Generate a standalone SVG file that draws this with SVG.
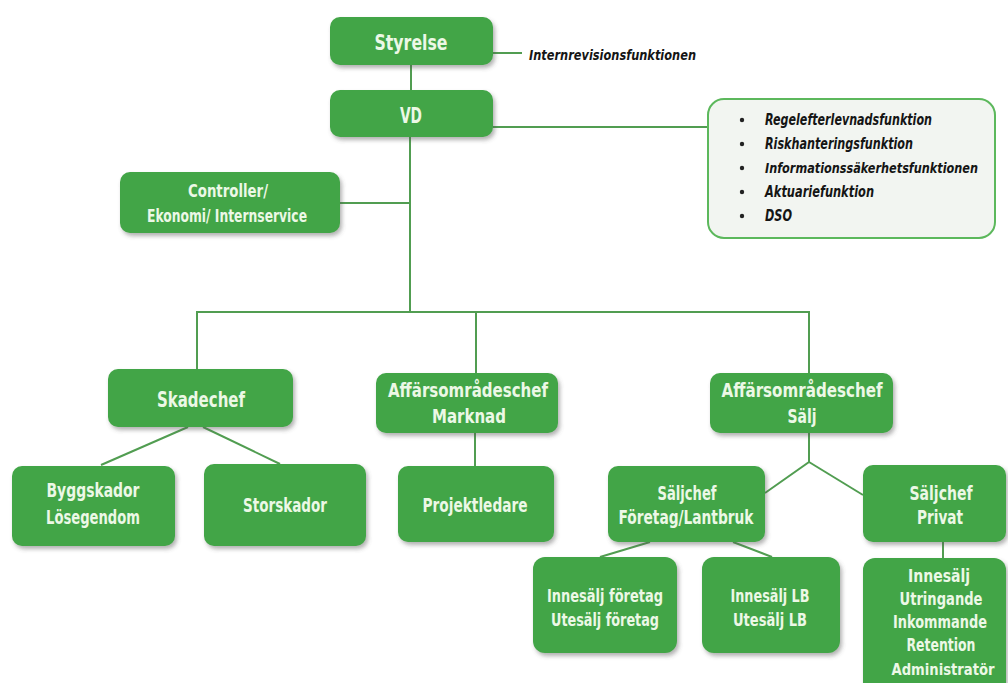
<svg xmlns="http://www.w3.org/2000/svg" width="1008" height="683" viewBox="0 0 1008 683">
<defs>
<filter id="sh" x="-10%" y="-10%" width="125%" height="130%">
<feDropShadow dx="2" dy="3" stdDeviation="2" flood-color="#555" flood-opacity="0.45"/>
</filter>
<style>
.n{fill:#43a547;filter:url(#sh)}
.t{font-family:"DejaVu Sans Condensed","Liberation Sans Narrow","Liberation Sans",sans-serif;font-weight:bold;fill:#ecf8e6;text-anchor:middle}
.i{font-family:"DejaVu Sans Condensed","Liberation Sans Narrow","Liberation Sans",sans-serif;font-weight:bold;font-style:italic;fill:#151515}
.c{stroke:#519d51;stroke-width:2;fill:none}
.box{fill:#f2f5f1;stroke:#5cb85c;stroke-width:2}
</style>
</defs>
<rect width="1008" height="683" fill="#ffffff"/>
<g id="connectors">
<line class="c" x1="411" y1="65" x2="411" y2="90"/>
<line class="c" x1="493" y1="53" x2="522" y2="53"/>
<line class="c" x1="493" y1="127" x2="708" y2="127"/>
<line class="c" x1="410" y1="137" x2="410" y2="312"/>
<line class="c" x1="340" y1="203" x2="410" y2="203"/>
<line class="c" x1="196" y1="312" x2="810" y2="312"/>
<line class="c" x1="197" y1="312" x2="197" y2="369"/>
<line class="c" x1="476" y1="312" x2="476" y2="373"/>
<line class="c" x1="809" y1="312" x2="809" y2="373"/>
<line class="c" x1="188" y1="427" x2="101" y2="465"/>
<line class="c" x1="203" y1="427" x2="280" y2="464"/>
<line class="c" x1="475" y1="433" x2="475" y2="466"/>
<polyline class="c" points="809,433 809,462 765,493"/>
<line class="c" x1="809" y1="462" x2="863" y2="495"/>
<line class="c" x1="650" y1="542" x2="600" y2="557"/>
<line class="c" x1="733" y1="542" x2="772" y2="557"/>
<line class="c" x1="943" y1="542" x2="943" y2="558"/>
</g>
<g id="styrelse">
<rect class="n" x="330" y="17" width="163" height="48" rx="10"/>
<text class="t" x="411" y="50" font-size="22" textLength="73" lengthAdjust="spacingAndGlyphs">Styrelse</text>
</g>
<g id="internrevision">
<text class="i" x="529" y="60" font-size="14.5" textLength="167" lengthAdjust="spacingAndGlyphs">Internrevisionsfunktionen</text>
</g>
<g id="vd">
<rect class="n" x="330" y="90" width="163" height="47" rx="10"/>
<text class="t" x="411" y="123" font-size="22" textLength="22" lengthAdjust="spacingAndGlyphs">VD</text>
</g>
<g id="funktioner">
<rect class="box" x="708" y="99" width="287" height="139" rx="16"/>
<g fill="#222">
<circle cx="742" cy="120" r="2.2"/>
<circle cx="742" cy="144" r="2.2"/>
<circle cx="742" cy="168" r="2.2"/>
<circle cx="742" cy="192" r="2.2"/>
<circle cx="742" cy="216" r="2.2"/>
</g>
<text class="i" x="765" y="125" font-size="15" textLength="167" lengthAdjust="spacingAndGlyphs">Regelefterlevnadsfunktion</text>
<text class="i" x="765" y="149" font-size="15" textLength="148" lengthAdjust="spacingAndGlyphs">Riskhanteringsfunktion</text>
<text class="i" x="765" y="173" font-size="13.5" textLength="213" lengthAdjust="spacingAndGlyphs">Informationssäkerhetsfunktionen</text>
<text class="i" x="765" y="197" font-size="15" textLength="109" lengthAdjust="spacingAndGlyphs">Aktuariefunktion</text>
<text class="i" x="765" y="221" font-size="15" textLength="27" lengthAdjust="spacingAndGlyphs">DSO</text>
</g>
<g id="controller">
<rect class="n" x="120" y="172" width="220" height="61" rx="10"/>
<text class="t" x="228" y="197" font-size="18" textLength="80" lengthAdjust="spacingAndGlyphs">Controller/</text>
<text class="t" x="227" y="222" font-size="18" textLength="160" lengthAdjust="spacingAndGlyphs">Ekonomi/ Internservice</text>
</g>
<g id="skadechef">
<rect class="n" x="108" y="369" width="185" height="58" rx="10"/>
<text class="t" x="201" y="407" font-size="22" textLength="88" lengthAdjust="spacingAndGlyphs">Skadechef</text>
</g>
<g id="ao-marknad">
<rect class="n" x="376" y="373" width="182" height="60" rx="10"/>
<text class="t" x="468" y="397" font-size="19.5" textLength="160" lengthAdjust="spacingAndGlyphs">Affärsområdeschef</text>
<text class="t" x="469" y="423" font-size="19.5" textLength="74" lengthAdjust="spacingAndGlyphs">Marknad</text>
</g>
<g id="ao-salj">
<rect class="n" x="710" y="373" width="183" height="60" rx="10"/>
<text class="t" x="802" y="397" font-size="19.5" textLength="161" lengthAdjust="spacingAndGlyphs">Affärsområdeschef</text>
<text class="t" x="802" y="423" font-size="19.5" textLength="29" lengthAdjust="spacingAndGlyphs">Sälj</text>
</g>
<g id="byggskador">
<rect class="n" x="12" y="466" width="163" height="80" rx="10"/>
<text class="t" x="93" y="497" font-size="19.5" textLength="93" lengthAdjust="spacingAndGlyphs">Byggskador</text>
<text class="t" x="93" y="524" font-size="19.5" textLength="94" lengthAdjust="spacingAndGlyphs">Lösegendom</text>
</g>
<g id="storskador">
<rect class="n" x="204" y="464" width="162" height="82" rx="10"/>
<text class="t" x="285" y="512" font-size="19.5" textLength="84" lengthAdjust="spacingAndGlyphs">Storskador</text>
</g>
<g id="projektledare">
<rect class="n" x="398" y="466" width="156" height="76" rx="10"/>
<text class="t" x="475" y="512" font-size="19.5" textLength="105" lengthAdjust="spacingAndGlyphs">Projektledare</text>
</g>
<g id="saljchef-foretag">
<rect class="n" x="608" y="466" width="157" height="76" rx="10"/>
<text class="t" x="687" y="500" font-size="19" textLength="59" lengthAdjust="spacingAndGlyphs">Säljchef</text>
<text class="t" x="686" y="524" font-size="19" textLength="135" lengthAdjust="spacingAndGlyphs">Företag/Lantbruk</text>
</g>
<g id="saljchef-privat">
<rect class="n" x="863" y="465" width="143" height="77" rx="10"/>
<text class="t" x="941" y="500" font-size="19" textLength="63" lengthAdjust="spacingAndGlyphs">Säljchef</text>
<text class="t" x="940" y="524" font-size="19" textLength="46" lengthAdjust="spacingAndGlyphs">Privat</text>
</g>
<g id="innesalj-foretag">
<rect class="n" x="533" y="557" width="144" height="96" rx="12"/>
<text class="t" x="605" y="602" font-size="18.5" textLength="116" lengthAdjust="spacingAndGlyphs">Innesälj företag</text>
<text class="t" x="605" y="626" font-size="18.5" textLength="108" lengthAdjust="spacingAndGlyphs">Utesälj företag</text>
</g>
<g id="innesalj-lb">
<rect class="n" x="702" y="557" width="138" height="96" rx="12"/>
<text class="t" x="770" y="602" font-size="18.5" textLength="79" lengthAdjust="spacingAndGlyphs">Innesälj LB</text>
<text class="t" x="770" y="626" font-size="18.5" textLength="74" lengthAdjust="spacingAndGlyphs">Utesälj LB</text>
</g>
<g id="privat-team">
<rect class="n" x="863" y="558" width="143" height="140" rx="12"/>
<text class="t" x="939" y="582" font-size="18.5" textLength="62" lengthAdjust="spacingAndGlyphs">Innesälj</text>
<text class="t" x="941" y="605" font-size="18.5" textLength="83" lengthAdjust="spacingAndGlyphs">Utringande</text>
<text class="t" x="940" y="628" font-size="17" textLength="94" lengthAdjust="spacingAndGlyphs">Inkommande</text>
<text class="t" x="941" y="651" font-size="18.5" textLength="69" lengthAdjust="spacingAndGlyphs">Retention</text>
<text class="t" x="943" y="675" font-size="16.5" textLength="103" lengthAdjust="spacingAndGlyphs">Administratör</text>
</g>
</svg>
